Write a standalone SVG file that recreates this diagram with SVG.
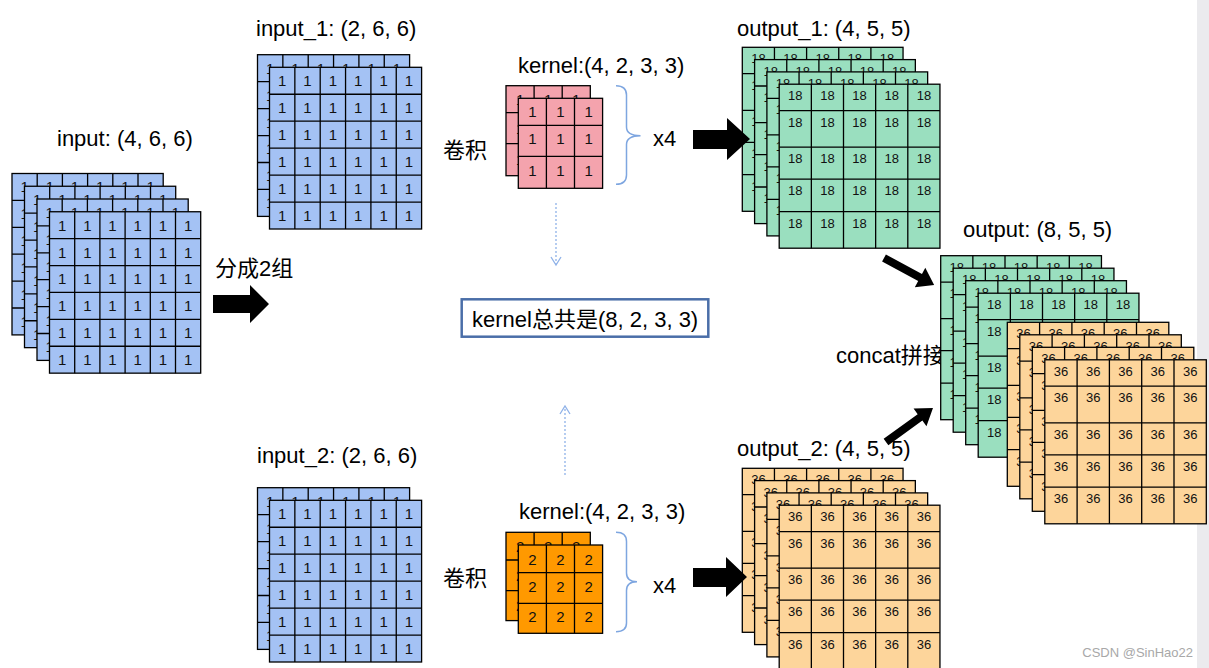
<svg xmlns="http://www.w3.org/2000/svg" width="1209" height="668" viewBox="0 0 1209 668">
<style>
.lb{font-family:"Liberation Sans",Arial,"Noto Sans CJK SC",sans-serif;font-size:22px;fill:#000}
.d{font-family:"Liberation Sans",Arial,sans-serif;font-size:15px;fill:#111;text-anchor:middle}
.s{font-family:"Liberation Sans",Arial,sans-serif;font-size:13px;fill:#111;text-anchor:middle}
.gl{fill:none;stroke:#000;stroke-width:1.3}
.bl{fill:#a4c2f4;stroke:#000;stroke-width:1.3}
.pk{fill:#f4a3ad;stroke:#000;stroke-width:1.3}
.or{fill:#ff9900;stroke:#000;stroke-width:1.3}
.gr{fill:#9adfbf;stroke:#000;stroke-width:1.3}
.lo{fill:#fdd59b;stroke:#000;stroke-width:1.3}
.fat{fill:#000}
.br{fill:none;stroke:#7ea6e0;stroke-width:1.5}
.dash{fill:none;stroke:#8fb2e8;stroke-width:1.3;stroke-dasharray:2 2}
.wm{font-family:"Liberation Sans",Arial,sans-serif;font-size:13px;fill:#a8a8a8}
</style>
<rect x="0" y="0" width="1209" height="668" fill="#fff"/>
<rect x="1197" y="0" width="12" height="668" fill="#ebebee"/>

<g id="input">
<text class="lb" x="57" y="146">input: (4, 6, 6)</text>
<rect class="bl" x="12" y="173.5" width="151.2" height="161.4"/>
<path class="gl" d="M37.2 173.5V334.9M62.4 173.5V334.9M87.6 173.5V334.9M112.8 173.5V334.9M138 173.5V334.9M12 200.4H163.2M12 227.3H163.2M12 254.2H163.2M12 281.1H163.2M12 308H163.2"/>
<text class="d" x="24.6" y="192.4">1</text><text class="d" x="49.8" y="192.4">1</text><text class="d" x="75" y="192.4">1</text><text class="d" x="100.2" y="192.4">1</text><text class="d" x="125.4" y="192.4">1</text><text class="d" x="150.6" y="192.4">1</text>
<text class="d" x="24.6" y="219.3">1</text><text class="d" x="24.6" y="246.2">1</text><text class="d" x="24.6" y="273.1">1</text><text class="d" x="24.6" y="300">1</text><text class="d" x="24.6" y="326.9">1</text>
<rect class="bl" x="24.5" y="186.25" width="151.2" height="161.4"/>
<path class="gl" d="M49.7 186.25V347.65M74.9 186.25V347.65M100.1 186.25V347.65M125.3 186.25V347.65M150.5 186.25V347.65M24.5 213.15H175.7M24.5 240.05H175.7M24.5 266.95H175.7M24.5 293.85H175.7M24.5 320.75H175.7"/>
<text class="d" x="37.1" y="205.1">1</text><text class="d" x="62.3" y="205.1">1</text><text class="d" x="87.5" y="205.1">1</text><text class="d" x="112.7" y="205.1">1</text><text class="d" x="137.9" y="205.1">1</text><text class="d" x="163.1" y="205.1">1</text>
<text class="d" x="37.1" y="232">1</text><text class="d" x="37.1" y="258.9">1</text><text class="d" x="37.1" y="285.8">1</text><text class="d" x="37.1" y="312.7">1</text><text class="d" x="37.1" y="339.6">1</text>
<rect class="bl" x="37" y="199" width="151.2" height="161.4"/>
<path class="gl" d="M62.2 199V360.4M87.4 199V360.4M112.6 199V360.4M137.8 199V360.4M163 199V360.4M37 225.9H188.2M37 252.8H188.2M37 279.7H188.2M37 306.6H188.2M37 333.5H188.2"/>
<text class="d" x="49.6" y="217.9">1</text><text class="d" x="74.8" y="217.9">1</text><text class="d" x="100" y="217.9">1</text><text class="d" x="125.2" y="217.9">1</text><text class="d" x="150.4" y="217.9">1</text><text class="d" x="175.6" y="217.9">1</text>
<text class="d" x="49.6" y="244.8">1</text><text class="d" x="49.6" y="271.7">1</text><text class="d" x="49.6" y="298.6">1</text><text class="d" x="49.6" y="325.5">1</text><text class="d" x="49.6" y="352.4">1</text>
<rect class="bl" x="49.5" y="211.75" width="151.2" height="161.4"/>
<path class="gl" d="M74.7 211.75V373.15M99.9 211.75V373.15M125.1 211.75V373.15M150.3 211.75V373.15M175.5 211.75V373.15M49.5 238.65H200.7M49.5 265.55H200.7M49.5 292.45H200.7M49.5 319.35H200.7M49.5 346.25H200.7"/>
<text class="d" x="62.1" y="230.6">1</text><text class="d" x="87.3" y="230.6">1</text><text class="d" x="112.5" y="230.6">1</text><text class="d" x="137.7" y="230.6">1</text><text class="d" x="162.9" y="230.6">1</text><text class="d" x="188.1" y="230.6">1</text>
<text class="d" x="62.1" y="257.5">1</text><text class="d" x="87.3" y="257.5">1</text><text class="d" x="112.5" y="257.5">1</text><text class="d" x="137.7" y="257.5">1</text><text class="d" x="162.9" y="257.5">1</text><text class="d" x="188.1" y="257.5">1</text>
<text class="d" x="62.1" y="284.4">1</text><text class="d" x="87.3" y="284.4">1</text><text class="d" x="112.5" y="284.4">1</text><text class="d" x="137.7" y="284.4">1</text><text class="d" x="162.9" y="284.4">1</text><text class="d" x="188.1" y="284.4">1</text>
<text class="d" x="62.1" y="311.3">1</text><text class="d" x="87.3" y="311.3">1</text><text class="d" x="112.5" y="311.3">1</text><text class="d" x="137.7" y="311.3">1</text><text class="d" x="162.9" y="311.3">1</text><text class="d" x="188.1" y="311.3">1</text>
<text class="d" x="62.1" y="338.2">1</text><text class="d" x="87.3" y="338.2">1</text><text class="d" x="112.5" y="338.2">1</text><text class="d" x="137.7" y="338.2">1</text><text class="d" x="162.9" y="338.2">1</text><text class="d" x="188.1" y="338.2">1</text>
<text class="d" x="62.1" y="365.1">1</text><text class="d" x="87.3" y="365.1">1</text><text class="d" x="112.5" y="365.1">1</text><text class="d" x="137.7" y="365.1">1</text><text class="d" x="162.9" y="365.1">1</text><text class="d" x="188.1" y="365.1">1</text>
</g>

<g id="split-label"><text class="lb" x="215" y="276">分成2组</text></g>

<g id="input_1">
<text class="lb" x="256" y="36">input_1: (2, 6, 6)</text>
<rect class="bl" x="257.5" y="54.7" width="152.1" height="161.7"/>
<path class="gl" d="M282.85 54.7V216.4M308.2 54.7V216.4M333.55 54.7V216.4M358.9 54.7V216.4M384.25 54.7V216.4M257.5 81.65H409.6M257.5 108.6H409.6M257.5 135.55H409.6M257.5 162.5H409.6M257.5 189.45H409.6"/>
<text class="d" x="270.2" y="73.6">1</text><text class="d" x="295.5" y="73.6">1</text><text class="d" x="320.9" y="73.6">1</text><text class="d" x="346.2" y="73.6">1</text><text class="d" x="371.6" y="73.6">1</text><text class="d" x="396.9" y="73.6">1</text>
<text class="d" x="270.2" y="100.55">1</text><text class="d" x="270.2" y="127.5">1</text><text class="d" x="270.2" y="154.45">1</text><text class="d" x="270.2" y="181.4">1</text><text class="d" x="270.2" y="208.35">1</text>
<rect class="bl" x="269.5" y="67.3" width="152.1" height="161.7"/>
<path class="gl" d="M294.85 67.3V229M320.2 67.3V229M345.55 67.3V229M370.9 67.3V229M396.25 67.3V229M269.5 94.25H421.6M269.5 121.2H421.6M269.5 148.15H421.6M269.5 175.1H421.6M269.5 202.05H421.6"/>
<text class="d" x="282.2" y="86.2">1</text><text class="d" x="307.5" y="86.2">1</text><text class="d" x="332.9" y="86.2">1</text><text class="d" x="358.2" y="86.2">1</text><text class="d" x="383.6" y="86.2">1</text><text class="d" x="408.9" y="86.2">1</text>
<text class="d" x="282.2" y="113.15">1</text><text class="d" x="307.5" y="113.15">1</text><text class="d" x="332.9" y="113.15">1</text><text class="d" x="358.2" y="113.15">1</text><text class="d" x="383.6" y="113.15">1</text><text class="d" x="408.9" y="113.15">1</text>
<text class="d" x="282.2" y="140.1">1</text><text class="d" x="307.5" y="140.1">1</text><text class="d" x="332.9" y="140.1">1</text><text class="d" x="358.2" y="140.1">1</text><text class="d" x="383.6" y="140.1">1</text><text class="d" x="408.9" y="140.1">1</text>
<text class="d" x="282.2" y="167.05">1</text><text class="d" x="307.5" y="167.05">1</text><text class="d" x="332.9" y="167.05">1</text><text class="d" x="358.2" y="167.05">1</text><text class="d" x="383.6" y="167.05">1</text><text class="d" x="408.9" y="167.05">1</text>
<text class="d" x="282.2" y="194">1</text><text class="d" x="307.5" y="194">1</text><text class="d" x="332.9" y="194">1</text><text class="d" x="358.2" y="194">1</text><text class="d" x="383.6" y="194">1</text><text class="d" x="408.9" y="194">1</text>
<text class="d" x="282.2" y="220.95">1</text><text class="d" x="307.5" y="220.95">1</text><text class="d" x="332.9" y="220.95">1</text><text class="d" x="358.2" y="220.95">1</text><text class="d" x="383.6" y="220.95">1</text><text class="d" x="408.9" y="220.95">1</text>
</g>

<g id="input_2">
<text class="lb" x="257" y="463">input_2: (2, 6, 6)</text>
<rect class="bl" x="257.5" y="487.7" width="152.1" height="161.7"/>
<path class="gl" d="M282.85 487.7V649.4M308.2 487.7V649.4M333.55 487.7V649.4M358.9 487.7V649.4M384.25 487.7V649.4M257.5 514.65H409.6M257.5 541.6H409.6M257.5 568.55H409.6M257.5 595.5H409.6M257.5 622.45H409.6"/>
<text class="d" x="270.2" y="506.6">1</text><text class="d" x="295.5" y="506.6">1</text><text class="d" x="320.9" y="506.6">1</text><text class="d" x="346.2" y="506.6">1</text><text class="d" x="371.6" y="506.6">1</text><text class="d" x="396.9" y="506.6">1</text>
<text class="d" x="270.2" y="533.55">1</text><text class="d" x="270.2" y="560.5">1</text><text class="d" x="270.2" y="587.45">1</text><text class="d" x="270.2" y="614.4">1</text><text class="d" x="270.2" y="641.35">1</text>
<rect class="bl" x="269.5" y="500.3" width="152.1" height="161.7"/>
<path class="gl" d="M294.85 500.3V662M320.2 500.3V662M345.55 500.3V662M370.9 500.3V662M396.25 500.3V662M269.5 527.25H421.6M269.5 554.2H421.6M269.5 581.15H421.6M269.5 608.1H421.6M269.5 635.05H421.6"/>
<text class="d" x="282.2" y="519.2">1</text><text class="d" x="307.5" y="519.2">1</text><text class="d" x="332.9" y="519.2">1</text><text class="d" x="358.2" y="519.2">1</text><text class="d" x="383.6" y="519.2">1</text><text class="d" x="408.9" y="519.2">1</text>
<text class="d" x="282.2" y="546.15">1</text><text class="d" x="307.5" y="546.15">1</text><text class="d" x="332.9" y="546.15">1</text><text class="d" x="358.2" y="546.15">1</text><text class="d" x="383.6" y="546.15">1</text><text class="d" x="408.9" y="546.15">1</text>
<text class="d" x="282.2" y="573.1">1</text><text class="d" x="307.5" y="573.1">1</text><text class="d" x="332.9" y="573.1">1</text><text class="d" x="358.2" y="573.1">1</text><text class="d" x="383.6" y="573.1">1</text><text class="d" x="408.9" y="573.1">1</text>
<text class="d" x="282.2" y="600.05">1</text><text class="d" x="307.5" y="600.05">1</text><text class="d" x="332.9" y="600.05">1</text><text class="d" x="358.2" y="600.05">1</text><text class="d" x="383.6" y="600.05">1</text><text class="d" x="408.9" y="600.05">1</text>
<text class="d" x="282.2" y="627">1</text><text class="d" x="307.5" y="627">1</text><text class="d" x="332.9" y="627">1</text><text class="d" x="358.2" y="627">1</text><text class="d" x="383.6" y="627">1</text><text class="d" x="408.9" y="627">1</text>
<text class="d" x="282.2" y="653.95">1</text><text class="d" x="307.5" y="653.95">1</text><text class="d" x="332.9" y="653.95">1</text><text class="d" x="358.2" y="653.95">1</text><text class="d" x="383.6" y="653.95">1</text><text class="d" x="408.9" y="653.95">1</text>
</g>

<g id="conv-label-1"><text class="lb" x="443" y="158">卷积</text></g>
<g id="conv-label-2"><text class="lb" x="443" y="586">卷积</text></g>

<g id="kernel_1">
<text class="lb" x="518" y="73">kernel:(4, 2, 3, 3)</text>
<rect class="pk" x="506" y="85.7" width="84.3" height="90"/>
<path class="gl" d="M534.1 85.7V175.7M562.2 85.7V175.7M506 112.7H590.3M506 143.7H590.3"/>
<text class="d" x="520.05" y="104.6">1</text><text class="d" x="548.15" y="104.6">1</text><text class="d" x="576.25" y="104.6">1</text>
<text class="d" x="520.05" y="133.6">1</text><text class="d" x="520.05" y="165.1">1</text>
<rect class="pk" x="518.3" y="98.3" width="84.3" height="90"/>
<path class="gl" d="M546.4 98.3V188.3M574.5 98.3V188.3M518.3 125.3H602.6M518.3 156.3H602.6"/>
<text class="d" x="532.35" y="117.2">1</text><text class="d" x="560.45" y="117.2">1</text><text class="d" x="588.55" y="117.2">1</text>
<text class="d" x="532.35" y="144">1</text><text class="d" x="560.45" y="144">1</text><text class="d" x="588.55" y="144">1</text>
<text class="d" x="532.35" y="176">1</text><text class="d" x="560.45" y="176">1</text><text class="d" x="588.55" y="176">1</text>
<path class="br" d="M616 85.7Q626.5 85.7 626.5 95V127Q626.5 135.7 640.5 135.7Q626.5 135.7 626.5 144.5V175Q626.5 184.3 616 184.3"/>
<text class="lb" x="653" y="146">x4</text>
</g>

<g id="kernel_2">
<text class="lb" x="519" y="518.5">kernel:(4, 2, 3, 3)</text>
<rect class="or" x="506" y="532.3" width="84.3" height="88.3"/>
<path class="gl" d="M534.1 532.3V620.6M562.2 532.3V620.6M506 560H590.3M506 590.6H590.3"/>
<text class="d" x="520.05" y="551.5">2</text><text class="d" x="548.15" y="551.5">2</text><text class="d" x="576.25" y="551.5">2</text>
<text class="d" x="520.05" y="580.7">2</text><text class="d" x="520.05" y="611">2</text>
<rect class="or" x="518.3" y="545" width="84.3" height="88.3"/>
<path class="gl" d="M546.4 545V633.3M574.5 545V633.3M518.3 572.7H602.6M518.3 603.3H602.6"/>
<text class="d" x="532.35" y="564.5">2</text><text class="d" x="560.45" y="564.5">2</text><text class="d" x="588.55" y="564.5">2</text>
<text class="d" x="532.35" y="591.5">2</text><text class="d" x="560.45" y="591.5">2</text><text class="d" x="588.55" y="591.5">2</text>
<text class="d" x="532.35" y="622">2</text><text class="d" x="560.45" y="622">2</text><text class="d" x="588.55" y="622">2</text>
<path class="br" d="M616 532.3Q626.5 532.3 626.5 541.5V573Q626.5 581.7 637 581.7Q626.5 581.7 626.5 590.5V623Q626.5 631.7 616 631.7"/>
<text class="lb" x="653" y="593">x4</text>
</g>

<g id="kernel_total">
<rect x="461.7" y="299.3" width="246.6" height="37.4" fill="#fff" stroke="#4a6ea8" stroke-width="2.5"/>
<text class="lb" x="472" y="327">kernel总共是(8, 2, 3, 3)</text>
</g>

<g id="output_1">
<text class="lb" x="737" y="36">output_1: (4, 5, 5)</text>
<rect class="gr" x="742.3" y="47.3" width="160.75" height="164"/>
<path class="gl" d="M774.45 47.3V211.3M806.6 47.3V211.3M838.75 47.3V211.3M870.9 47.3V211.3M742.3 73.7H903.05M742.3 110.3H903.05M742.3 142.3H903.05M742.3 174.7H903.05"/>
<text class="s" x="758.4" y="63.45">18</text><text class="s" x="790.5" y="63.45">18</text><text class="s" x="822.7" y="63.45">18</text><text class="s" x="854.8" y="63.45">18</text><text class="s" x="887" y="63.45">18</text>
<text class="s" x="758.4" y="89.85">18</text><text class="s" x="758.4" y="126.45">18</text><text class="s" x="758.4" y="158.45">18</text><text class="s" x="758.4" y="190.85">18</text>
<rect class="gr" x="754.6" y="59.6" width="160.75" height="164"/>
<path class="gl" d="M786.75 59.6V223.6M818.9 59.6V223.6M851.05 59.6V223.6M883.2 59.6V223.6M754.6 86H915.35M754.6 122.6H915.35M754.6 154.6H915.35M754.6 187H915.35"/>
<text class="s" x="770.7" y="75.75">18</text><text class="s" x="802.8" y="75.75">18</text><text class="s" x="835" y="75.75">18</text><text class="s" x="867.1" y="75.75">18</text><text class="s" x="899.3" y="75.75">18</text>
<text class="s" x="770.7" y="102.15">18</text><text class="s" x="770.7" y="138.75">18</text><text class="s" x="770.7" y="170.75">18</text><text class="s" x="770.7" y="203.15">18</text>
<rect class="gr" x="766.9" y="71.9" width="160.75" height="164"/>
<path class="gl" d="M799.05 71.9V235.9M831.2 71.9V235.9M863.35 71.9V235.9M895.5 71.9V235.9M766.9 98.3H927.65M766.9 134.9H927.65M766.9 166.9H927.65M766.9 199.3H927.65"/>
<text class="s" x="783" y="88.05">18</text><text class="s" x="815.1" y="88.05">18</text><text class="s" x="847.3" y="88.05">18</text><text class="s" x="879.4" y="88.05">18</text><text class="s" x="911.6" y="88.05">18</text>
<text class="s" x="783" y="114.45">18</text><text class="s" x="783" y="151.05">18</text><text class="s" x="783" y="183.05">18</text><text class="s" x="783" y="215.45">18</text>
<rect class="gr" x="779.2" y="84.2" width="160.75" height="164"/>
<path class="gl" d="M811.35 84.2V248.2M843.5 84.2V248.2M875.65 84.2V248.2M907.8 84.2V248.2M779.2 110.6H939.95M779.2 147.2H939.95M779.2 179.2H939.95M779.2 211.6H939.95"/>
<text class="s" x="795.3" y="100.35">18</text><text class="s" x="827.4" y="100.35">18</text><text class="s" x="859.6" y="100.35">18</text><text class="s" x="891.7" y="100.35">18</text><text class="s" x="923.9" y="100.35">18</text>
<text class="s" x="795.3" y="126.75">18</text><text class="s" x="827.4" y="126.75">18</text><text class="s" x="859.6" y="126.75">18</text><text class="s" x="891.7" y="126.75">18</text><text class="s" x="923.9" y="126.75">18</text>
<text class="s" x="795.3" y="163.35">18</text><text class="s" x="827.4" y="163.35">18</text><text class="s" x="859.6" y="163.35">18</text><text class="s" x="891.7" y="163.35">18</text><text class="s" x="923.9" y="163.35">18</text>
<text class="s" x="795.3" y="195.35">18</text><text class="s" x="827.4" y="195.35">18</text><text class="s" x="859.6" y="195.35">18</text><text class="s" x="891.7" y="195.35">18</text><text class="s" x="923.9" y="195.35">18</text>
<text class="s" x="795.3" y="227.75">18</text><text class="s" x="827.4" y="227.75">18</text><text class="s" x="859.6" y="227.75">18</text><text class="s" x="891.7" y="227.75">18</text><text class="s" x="923.9" y="227.75">18</text>
</g>

<g id="output_2">
<text class="lb" x="737" y="456">output_2: (4, 5, 5)</text>
<rect class="lo" x="742.3" y="468.3" width="160.75" height="164"/>
<path class="gl" d="M774.45 468.3V632.3M806.6 468.3V632.3M838.75 468.3V632.3M870.9 468.3V632.3M742.3 494.7H903.05M742.3 531.3H903.05M742.3 563.3H903.05M742.3 595.7H903.05"/>
<text class="s" x="758.4" y="484.45">36</text><text class="s" x="790.5" y="484.45">36</text><text class="s" x="822.7" y="484.45">36</text><text class="s" x="854.8" y="484.45">36</text><text class="s" x="887" y="484.45">36</text>
<text class="s" x="758.4" y="510.85">36</text><text class="s" x="758.4" y="547.45">36</text><text class="s" x="758.4" y="579.45">36</text><text class="s" x="758.4" y="611.85">36</text>
<rect class="lo" x="754.6" y="480.6" width="160.75" height="164"/>
<path class="gl" d="M786.75 480.6V644.6M818.9 480.6V644.6M851.05 480.6V644.6M883.2 480.6V644.6M754.6 507H915.35M754.6 543.6H915.35M754.6 575.6H915.35M754.6 608H915.35"/>
<text class="s" x="770.7" y="496.75">36</text><text class="s" x="802.8" y="496.75">36</text><text class="s" x="835" y="496.75">36</text><text class="s" x="867.1" y="496.75">36</text><text class="s" x="899.3" y="496.75">36</text>
<text class="s" x="770.7" y="523.15">36</text><text class="s" x="770.7" y="559.75">36</text><text class="s" x="770.7" y="591.75">36</text><text class="s" x="770.7" y="624.15">36</text>
<rect class="lo" x="766.9" y="492.9" width="160.75" height="164"/>
<path class="gl" d="M799.05 492.9V656.9M831.2 492.9V656.9M863.35 492.9V656.9M895.5 492.9V656.9M766.9 519.3H927.65M766.9 555.9H927.65M766.9 587.9H927.65M766.9 620.3H927.65"/>
<text class="s" x="783" y="509.05">36</text><text class="s" x="815.1" y="509.05">36</text><text class="s" x="847.3" y="509.05">36</text><text class="s" x="879.4" y="509.05">36</text><text class="s" x="911.6" y="509.05">36</text>
<text class="s" x="783" y="535.45">36</text><text class="s" x="783" y="572.05">36</text><text class="s" x="783" y="604.05">36</text><text class="s" x="783" y="636.45">36</text>
<rect class="lo" x="779.2" y="505.2" width="160.75" height="164"/>
<path class="gl" d="M811.35 505.2V669.2M843.5 505.2V669.2M875.65 505.2V669.2M907.8 505.2V669.2M779.2 531.6H939.95M779.2 568.2H939.95M779.2 600.2H939.95M779.2 632.6H939.95"/>
<text class="s" x="795.3" y="521.35">36</text><text class="s" x="827.4" y="521.35">36</text><text class="s" x="859.6" y="521.35">36</text><text class="s" x="891.7" y="521.35">36</text><text class="s" x="923.9" y="521.35">36</text>
<text class="s" x="795.3" y="547.75">36</text><text class="s" x="827.4" y="547.75">36</text><text class="s" x="859.6" y="547.75">36</text><text class="s" x="891.7" y="547.75">36</text><text class="s" x="923.9" y="547.75">36</text>
<text class="s" x="795.3" y="584.35">36</text><text class="s" x="827.4" y="584.35">36</text><text class="s" x="859.6" y="584.35">36</text><text class="s" x="891.7" y="584.35">36</text><text class="s" x="923.9" y="584.35">36</text>
<text class="s" x="795.3" y="616.35">36</text><text class="s" x="827.4" y="616.35">36</text><text class="s" x="859.6" y="616.35">36</text><text class="s" x="891.7" y="616.35">36</text><text class="s" x="923.9" y="616.35">36</text>
<text class="s" x="795.3" y="648.75">36</text><text class="s" x="827.4" y="648.75">36</text><text class="s" x="859.6" y="648.75">36</text><text class="s" x="891.7" y="648.75">36</text><text class="s" x="923.9" y="648.75">36</text>
</g>

<g id="concat-label"><text class="lb" x="836" y="363">concat拼接</text></g>

<g id="output">
<text class="lb" x="963" y="237">output: (8, 5, 5)</text>
<rect class="gr" x="940.7" y="255.7" width="160.75" height="164"/>
<path class="gl" d="M972.85 255.7V419.7M1005 255.7V419.7M1037.15 255.7V419.7M1069.3 255.7V419.7M940.7 282.1H1101.45M940.7 318.7H1101.45M940.7 350.7H1101.45M940.7 383.1H1101.45"/>
<text class="s" x="956.8" y="271.85">18</text><text class="s" x="988.9" y="271.85">18</text><text class="s" x="1021.1" y="271.85">18</text><text class="s" x="1053.2" y="271.85">18</text><text class="s" x="1085.4" y="271.85">18</text>
<text class="s" x="956.8" y="298.25">18</text><text class="s" x="956.8" y="334.85">18</text><text class="s" x="956.8" y="366.85">18</text><text class="s" x="956.8" y="399.25">18</text>
<rect class="gr" x="953.2" y="268.2" width="160.75" height="164"/>
<path class="gl" d="M985.35 268.2V432.2M1017.5 268.2V432.2M1049.65 268.2V432.2M1081.8 268.2V432.2M953.2 294.6H1113.95M953.2 331.2H1113.95M953.2 363.2H1113.95M953.2 395.6H1113.95"/>
<text class="s" x="969.3" y="284.35">18</text><text class="s" x="1001.4" y="284.35">18</text><text class="s" x="1033.6" y="284.35">18</text><text class="s" x="1065.7" y="284.35">18</text><text class="s" x="1097.9" y="284.35">18</text>
<text class="s" x="969.3" y="310.75">18</text><text class="s" x="969.3" y="347.35">18</text><text class="s" x="969.3" y="379.35">18</text><text class="s" x="969.3" y="411.75">18</text>
<rect class="gr" x="965.7" y="280.7" width="160.75" height="164"/>
<path class="gl" d="M997.85 280.7V444.7M1030 280.7V444.7M1062.15 280.7V444.7M1094.3 280.7V444.7M965.7 307.1H1126.45M965.7 343.7H1126.45M965.7 375.7H1126.45M965.7 408.1H1126.45"/>
<text class="s" x="981.8" y="296.85">18</text><text class="s" x="1013.9" y="296.85">18</text><text class="s" x="1046.1" y="296.85">18</text><text class="s" x="1078.2" y="296.85">18</text><text class="s" x="1110.4" y="296.85">18</text>
<text class="s" x="981.8" y="323.25">18</text><text class="s" x="981.8" y="359.85">18</text><text class="s" x="981.8" y="391.85">18</text><text class="s" x="981.8" y="424.25">18</text>
<rect class="gr" x="978.2" y="293.2" width="160.75" height="164"/>
<path class="gl" d="M1010.35 293.2V457.2M1042.5 293.2V457.2M1074.65 293.2V457.2M1106.8 293.2V457.2M978.2 319.6H1138.95M978.2 356.2H1138.95M978.2 388.2H1138.95M978.2 420.6H1138.95"/>
<text class="s" x="994.3" y="309.35">18</text><text class="s" x="1026.4" y="309.35">18</text><text class="s" x="1058.6" y="309.35">18</text><text class="s" x="1090.7" y="309.35">18</text><text class="s" x="1122.9" y="309.35">18</text>
<text class="s" x="994.3" y="335.75">18</text><text class="s" x="994.3" y="372.35">18</text><text class="s" x="994.3" y="404.35">18</text><text class="s" x="994.3" y="436.75">18</text>
<rect class="lo" x="1007.3" y="322.3" width="161.5" height="164"/>
<path class="gl" d="M1039.6 322.3V486.3M1071.9 322.3V486.3M1104.2 322.3V486.3M1136.5 322.3V486.3M1007.3 348.7H1168.8M1007.3 385.3H1168.8M1007.3 417.3H1168.8M1007.3 449.7H1168.8"/>
<text class="s" x="1023.45" y="338.45">36</text><text class="s" x="1055.75" y="338.45">36</text><text class="s" x="1088.05" y="338.45">36</text><text class="s" x="1120.35" y="338.45">36</text><text class="s" x="1152.65" y="338.45">36</text>
<text class="s" x="1023.45" y="364.85">36</text><text class="s" x="1023.45" y="401.45">36</text><text class="s" x="1023.45" y="433.45">36</text><text class="s" x="1023.45" y="465.85">36</text>
<rect class="lo" x="1019.8" y="334.8" width="161.5" height="164"/>
<path class="gl" d="M1052.1 334.8V498.8M1084.4 334.8V498.8M1116.7 334.8V498.8M1149 334.8V498.8M1019.8 361.2H1181.3M1019.8 397.8H1181.3M1019.8 429.8H1181.3M1019.8 462.2H1181.3"/>
<text class="s" x="1035.95" y="350.95">36</text><text class="s" x="1068.25" y="350.95">36</text><text class="s" x="1100.55" y="350.95">36</text><text class="s" x="1132.85" y="350.95">36</text><text class="s" x="1165.15" y="350.95">36</text>
<text class="s" x="1035.95" y="377.35">36</text><text class="s" x="1035.95" y="413.95">36</text><text class="s" x="1035.95" y="445.95">36</text><text class="s" x="1035.95" y="478.35">36</text>
<rect class="lo" x="1032.3" y="347.3" width="161.5" height="164"/>
<path class="gl" d="M1064.6 347.3V511.3M1096.9 347.3V511.3M1129.2 347.3V511.3M1161.5 347.3V511.3M1032.3 373.7H1193.8M1032.3 410.3H1193.8M1032.3 442.3H1193.8M1032.3 474.7H1193.8"/>
<text class="s" x="1048.45" y="363.45">36</text><text class="s" x="1080.75" y="363.45">36</text><text class="s" x="1113.05" y="363.45">36</text><text class="s" x="1145.35" y="363.45">36</text><text class="s" x="1177.65" y="363.45">36</text>
<text class="s" x="1048.45" y="389.85">36</text><text class="s" x="1048.45" y="426.45">36</text><text class="s" x="1048.45" y="458.45">36</text><text class="s" x="1048.45" y="490.85">36</text>
<rect class="lo" x="1044.8" y="359.8" width="161.5" height="164"/>
<path class="gl" d="M1077.1 359.8V523.8M1109.4 359.8V523.8M1141.7 359.8V523.8M1174 359.8V523.8M1044.8 386.2H1206.3M1044.8 422.8H1206.3M1044.8 454.8H1206.3M1044.8 487.2H1206.3"/>
<text class="s" x="1060.95" y="375.95">36</text><text class="s" x="1093.25" y="375.95">36</text><text class="s" x="1125.55" y="375.95">36</text><text class="s" x="1157.85" y="375.95">36</text><text class="s" x="1190.15" y="375.95">36</text>
<text class="s" x="1060.95" y="402.35">36</text><text class="s" x="1093.25" y="402.35">36</text><text class="s" x="1125.55" y="402.35">36</text><text class="s" x="1157.85" y="402.35">36</text><text class="s" x="1190.15" y="402.35">36</text>
<text class="s" x="1060.95" y="438.95">36</text><text class="s" x="1093.25" y="438.95">36</text><text class="s" x="1125.55" y="438.95">36</text><text class="s" x="1157.85" y="438.95">36</text><text class="s" x="1190.15" y="438.95">36</text>
<text class="s" x="1060.95" y="470.95">36</text><text class="s" x="1093.25" y="470.95">36</text><text class="s" x="1125.55" y="470.95">36</text><text class="s" x="1157.85" y="470.95">36</text><text class="s" x="1190.15" y="470.95">36</text>
<text class="s" x="1060.95" y="503.35">36</text><text class="s" x="1093.25" y="503.35">36</text><text class="s" x="1125.55" y="503.35">36</text><text class="s" x="1157.85" y="503.35">36</text><text class="s" x="1190.15" y="503.35">36</text>
</g>

<g id="connectors">
<polygon class="fat" points="213,295 250,295 250,285 269,304 250,323 250,313 213,313"/>
<polygon class="fat" points="693,130 727,130 727,118 750,139 727,160 727,149 693,149"/>
<polygon class="fat" points="693,568 726,568 726,557 747,577 726,597 726,587 693,587"/>
<path class="fat" transform="translate(884,258) rotate(28.4)" d="M0 -4H41V-11L57 0L41 11V4H0Z"/>
<path class="fat" transform="translate(886,442) rotate(-35.9)" d="M0 -4H42V-11L58 0L42 11V4H0Z"/>
<path class="dash" d="M556 203V264"/>
<path fill="none" stroke="#8fb2e8" stroke-width="1.3" d="M551 257L556 265L561 257"/>
<path class="dash" d="M565 475V407"/>
<path fill="none" stroke="#8fb2e8" stroke-width="1.3" d="M560 414L565 406L570 414"/>
</g>

<text class="wm" x="1193" y="657" text-anchor="end">CSDN @SinHao22</text>
</svg>
